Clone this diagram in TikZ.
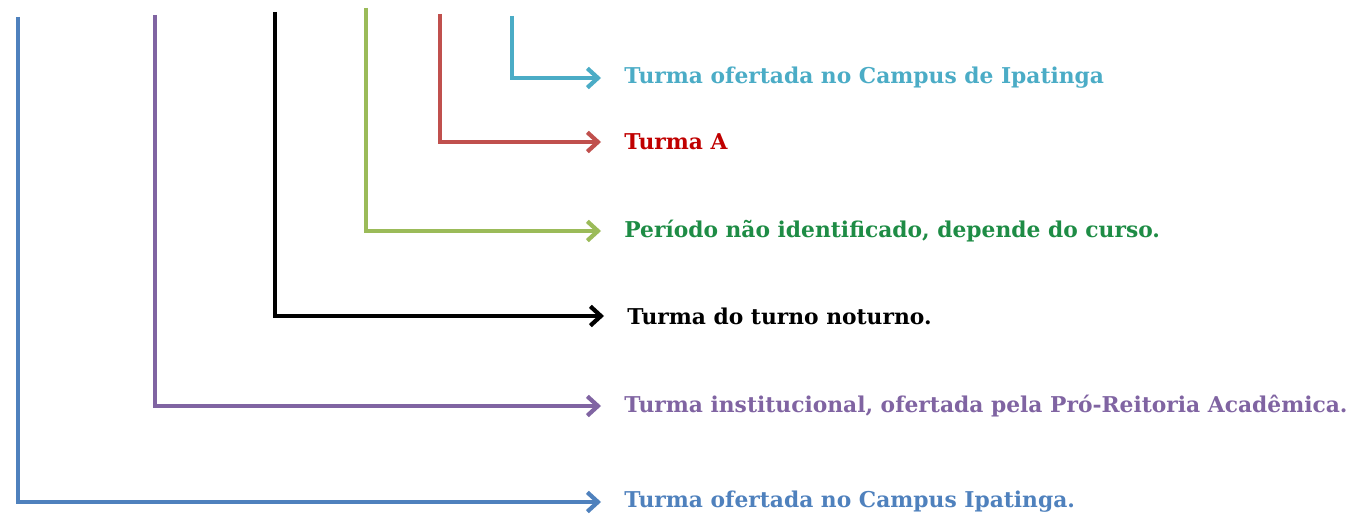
\documentclass[tikz,border=0pt]{standalone}
\usepackage{fontspec}
\setmainfont{DejaVu Serif}
\usepackage{tikz}
\usetikzlibrary{arrows.meta}

\definecolor{lblue}{HTML}{4F81BD}
\definecolor{lpurple}{HTML}{8064A2}
\definecolor{lgreen}{HTML}{9BBB59}
\definecolor{tgreen}{HTML}{1E8C45}
\definecolor{lred}{HTML}{C0504D}
\definecolor{tred}{HTML}{C00000}
\definecolor{lcyan}{HTML}{4BACC6}

\tikzset{
  leg/.style={line width=2.4pt, -{Straight Barb[length=6pt,width=11pt]}, shorten >=0.46cm},
  lab/.style={anchor=west, inner sep=0pt, font=\bfseries\fontsize{12.4}{14}\selectfont}
}

\begin{document}
\begin{tikzpicture}[x=0.02cm,y=-0.02cm]
\useasboundingbox (0,0) rectangle (1356,526);
% labels
\node[lab, text=lcyan] (cyan) at (624,78) {Turma ofertada no Campus de Ipatinga};
\node[lab, text=tred] (red) at (624,142) {Turma A};
\node[lab, text=tgreen] (green) at (624,231) {Período não identificado, depende do curso.};
\node[lab, text=black] (black) at (627,316) {Turma do turno noturno.};
\node[lab, text=lpurple] (purple) at (624,406) {Turma institucional, ofertada pela Pró-Reitoria Acadêmica.};
\node[lab, text=lblue] (blue) at (624,502) {Turma ofertada no Campus Ipatinga.};
% tops of the lines
\coordinate (tcyan) at (512,16);
\coordinate (tred) at (440,14);
\coordinate (tgreen) at (366,8);
\coordinate (tblack) at (275,12);
\coordinate (tpurple) at (155,15);
\coordinate (tblue) at (18,17);
% connectors
\draw[leg, lcyan] (tcyan) |- (cyan.west);
\draw[leg, lred] (tred) |- (red.west);
\draw[leg, lgreen] (tgreen) |- (green.west);
\draw[leg, black] (tblack) |- (black.west);
\draw[leg, lpurple] (tpurple) |- (purple.west);
\draw[leg, lblue] (tblue) |- (blue.west);
\end{tikzpicture}
\end{document}
